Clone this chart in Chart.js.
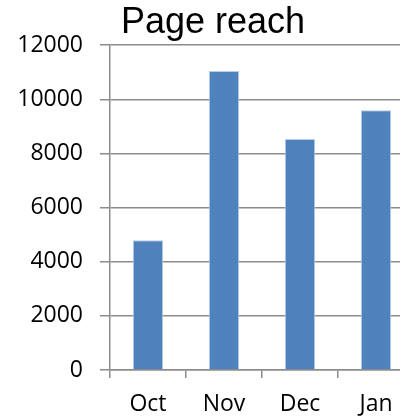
<!DOCTYPE html>
<html>
<head>
<meta charset="utf-8">
<script src="https://cdn.jsdelivr.net/npm/chart.js@4"></script>
<style>
  html, body { margin: 0; padding: 0; background: #fff; overflow: hidden; }
  #wrap { width: 426px; height: 416px; }
</style>
</head>
<body>
<div id="wrap"><canvas id="reachChart" width="426" height="416"></canvas></div>
<script>
  const months = ['Oct', 'Nov', 'Dec', 'Jan'];
  const reach = [4790, 11050, 8530, 9600];
  const yTicks = [0, 2000, 4000, 6000, 8000, 10000, 12000];

  const axisGrey = '#8c8c8c';
  const labelFont = { family: '"Open Sans", sans-serif', size: 23 };

  const ctx = document.getElementById('reachChart').getContext('2d');
  const chart = new Chart(ctx, {
    type: 'bar',
    data: {
      labels: months,
      datasets: [{
        label: 'Page reach',
        data: reach,
        backgroundColor: '#4F81BD',
        borderColor: '#b9cde5',
        borderWidth: 1,
        categoryPercentage: 1,
        barPercentage: 0.4
      }]
    },
    options: {
      responsive: false,
      animation: false,
      // left/right padding keeps the title centred like the original (plot runs off the right edge)
      layout: { padding: { left: 12, right: 12, top: 0, bottom: 0 } },
      plugins: {
        legend: { display: false },
        tooltip: { enabled: false },
        title: {
          display: true,
          text: 'Page reach',
          color: '#000',
          font: { family: '"Liberation Sans", Arial, sans-serif', size: 36, weight: 'normal' },
          padding: { top: 1, bottom: 1 }
        }
      },
      scales: {
        x: {
          grid: {
            offset: true,
            drawOnChartArea: false,
            drawTicks: true,
            tickLength: 8,
            color: axisGrey,
            lineWidth: 1.5
          },
          border: { color: axisGrey, width: 1.5 },
          ticks: {
            color: '#000',
            padding: 13,
            font: labelFont
          },
          afterFit(scale) { scale.height = 46; }
        },
        y: {
          min: 0,
          max: 12000,
          afterBuildTicks(scale) { scale.ticks = yTicks.map(v => ({ value: v })); },
          grid: {
            color: axisGrey,
            lineWidth: 1.5,
            drawTicks: true,
            tickLength: 10
          },
          border: { color: axisGrey, width: 1.5 },
          ticks: {
            color: '#000',
            padding: 17,
            font: labelFont,
            callback: v => String(v)
          },
          afterFit(scale) { scale.width = 98; }
        }
      }
    }
  });
</script>
</body>
</html>
